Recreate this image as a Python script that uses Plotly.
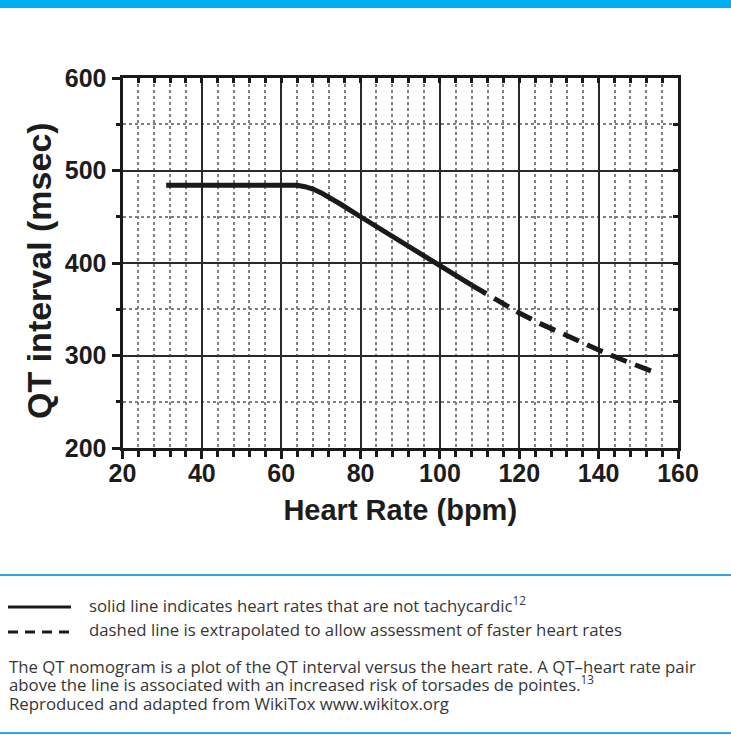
import plotly.graph_objects as go

# ---- data ----
hr_solid = [31, 40, 50, 60, 64, 66, 68, 70, 72, 75, 80, 85, 90, 95, 100, 105, 108]
qt_solid = [484, 484, 484, 484, 484, 482.5, 480, 476, 471.5, 463.5, 450, 437, 424, 411, 398, 384, 376]
hr_dash = [108, 110, 115, 120, 125, 130, 135, 140, 145, 150, 154]
qt_dash = [376, 371, 358, 346, 335, 325, 315, 306, 297, 289, 282]

x_ticks = [20, 40, 60, 80, 100, 120, 140, 160]
y_ticks = [200, 300, 400, 500, 600]

x_title = "Heart Rate (bpm)"
y_title = "QT interval (msec)"
legend_solid = "solid line indicates heart rates that are not tachycardic<sup>12</sup>"
legend_dash = "dashed line is extrapolated to allow assessment of faster heart rates"
para1 = "The QT nomogram is a plot of the QT interval versus the heart rate. A QT\u2013heart rate pair"
para2 = "above the line is associated with an increased risk of torsades de pointes.<sup>13</sup>"
credit = "Reproduced and adapted from WikiTox www.wikitox.org"

W, H = 731, 735
L, R, T, B = 122.5, 678, 78, 448  # plot area in pixels


def px(x):
    return x / W


def py(y):
    return 1 - y / H


AX_FAMILY = "Liberation Sans, Arial, sans-serif"
AX_FONT = dict(family=AX_FAMILY, size=25, color="#1c1c1c", weight="bold")
TXT_FONT = dict(family="Open Sans, sans-serif", size=16.8, color="#363636")
INK = "#1a1a1a"
MINOR = "#808080"

fig = go.Figure()
fig.add_trace(go.Scatter(x=hr_solid, y=qt_solid, mode="lines",
                         line=dict(color=INK, width=5), hoverinfo="skip", showlegend=False))
fig.add_trace(go.Scatter(x=hr_dash, y=qt_dash, mode="lines",
                         line=dict(color=INK, width=5, dash="17px,9px"), hoverinfo="skip", showlegend=False))
# invisible trace to carry the mirrored (top/right) axes
fig.add_trace(go.Scatter(x=hr_solid, y=qt_solid, mode="none", xaxis="x2", yaxis="y2",
                         hoverinfo="skip", showlegend=False))

common_x = dict(range=[20, 160], domain=[px(L), px(R)], fixedrange=True)
common_y = dict(range=[200, 600], domain=[py(B), py(T)], fixedrange=True)

fig.update_layout(
    width=W, height=H,
    margin=dict(l=0, r=0, t=0, b=0),
    paper_bgcolor="white", plot_bgcolor="white",
    xaxis=dict(**common_x, tickmode="array", tickvals=x_ticks, ticktext=[str(v) for v in x_ticks],
               showline=True, linewidth=3, linecolor=INK,
               showgrid=True, gridcolor="#2a2a2a", gridwidth=2,
               ticks="outside", ticklen=8, tickwidth=3, tickcolor=INK,
               tickfont=AX_FONT, ticklabelstandoff=-7, zeroline=False, automargin=False,
               minor=dict(dtick=4, tick0=20, showgrid=True, gridcolor=MINOR, griddash="dot", gridwidth=1.5,
                          ticks="outside", ticklen=6, tickwidth=3, tickcolor=INK),
               title=dict(text=x_title, standoff=14,
                          font=dict(family=AX_FAMILY, size=29, color="#1c1c1c", weight="bold"))),
    yaxis=dict(**common_y, tickmode="array", tickvals=y_ticks, ticktext=[str(v) for v in y_ticks],
               showline=True, linewidth=3, linecolor=INK,
               showgrid=True, gridcolor="#2a2a2a", gridwidth=2,
               ticks="outside", ticklen=8, tickwidth=3, tickcolor=INK,
               tickfont=AX_FONT, zeroline=False, automargin=False,
               minor=dict(dtick=50, tick0=200, showgrid=True, gridcolor=MINOR, griddash="dot", gridwidth=1.5,
                          ticks="outside", ticklen=4, tickwidth=3, tickcolor=INK)),
    xaxis2=dict(**common_x, overlaying="x", side="top", matches="x", showticklabels=False,
                showline=True, linewidth=2.5, linecolor=INK, showgrid=False, zeroline=False,
                tickmode="array", tickvals=x_ticks,
                ticks="inside", ticklen=5, tickwidth=3, tickcolor=INK,
                minor=dict(dtick=4, tick0=20, ticks="inside", ticklen=5, tickwidth=3, tickcolor=INK, showgrid=False)),
    yaxis2=dict(**common_y, overlaying="y", side="right", matches="y", showticklabels=False,
                showline=True, linewidth=2.5, linecolor=INK, showgrid=False, zeroline=False,
                tickmode="array", tickvals=y_ticks,
                ticks="inside", ticklen=5, tickwidth=3, tickcolor=INK,
                minor=dict(dtick=50, tick0=200, ticks="inside", ticklen=5, tickwidth=3, tickcolor=INK, showgrid=False)),
)

BLUE = "#00AEEF"
shapes = [
    # top blue band
    dict(type="rect", xref="paper", yref="paper", x0=0, x1=1, y0=py(8), y1=1,
         fillcolor=BLUE, line=dict(width=0), layer="above"),
    # separator line
    dict(type="line", xref="paper", yref="paper", x0=0, x1=1, y0=py(575), y1=py(575),
         line=dict(color="#29ABE2", width=2)),
    # bottom line
    dict(type="line", xref="paper", yref="paper", x0=0, x1=1, y0=py(733), y1=py(733),
         line=dict(color="#29ABE2", width=2)),
    # legend samples
    dict(type="line", xref="paper", yref="paper", x0=px(8), x1=px(71), y0=py(607), y1=py(607),
         line=dict(color=INK, width=3)),
    dict(type="line", xref="paper", yref="paper", x0=px(8), x1=px(72), y0=py(632), y1=py(632),
         line=dict(color=INK, width=3, dash="10px,7px")),
]
fig.update_layout(shapes=shapes)

ann = [dict(text=y_title, xref="paper", yref="paper", x=px(39), y=py(271), textangle=-90,
            xanchor="center", yanchor="middle", showarrow=False,
            font=dict(family=AX_FAMILY, size=34, color="#1c1c1c", weight="bold"))]
for text, x, y in [(legend_solid, 87, 604), (legend_dash, 87, 629),
                   (para1, 7, 666), (para2, 7, 683), (credit, 7, 703)]:
    ann.append(dict(text=text, xref="paper", yref="paper", x=px(x), y=py(y),
                    xanchor="left", yanchor="middle", showarrow=False, font=TXT_FONT, align="left"))
fig.update_layout(annotations=ann)

fig.write_html("out.html", config={"displayModeBar": False},
               post_script="document.body.style.margin='0';document.body.style.padding='0';")
